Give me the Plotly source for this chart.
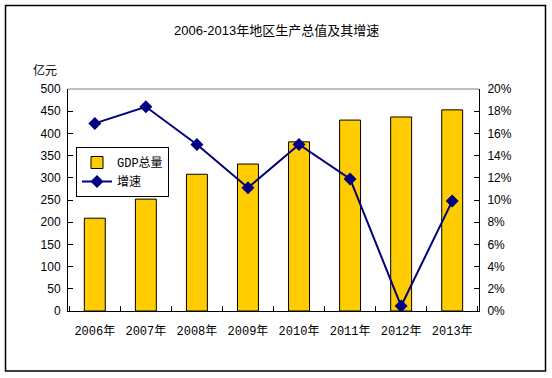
import plotly.graph_objects as go

years = ["2006年", "2007年", "2008年", "2009年", "2010年", "2011年", "2012年", "2013年"]
gdp = [209, 252, 308, 331, 381, 430, 437, 453]
growth = [0.169, 0.184, 0.150, 0.111, 0.150, 0.119, 0.0045, 0.099]
left_ticks = [0, 50, 100, 150, 200, 250, 300, 350, 400, 450, 500]
right_ticks = [0, 0.02, 0.04, 0.06, 0.08, 0.10, 0.12, 0.14, 0.16, 0.18, 0.20]

W, H = 552, 378
L, R, T, B = 68, 479, 89, 311

fig = go.Figure()
fig.add_trace(go.Bar(
    x=years, y=gdp, name="GDP总量", width=0.41,
    marker=dict(color="#FFCC00", line=dict(color="black", width=1)),
))
fig.add_trace(go.Scatter(
    x=years, y=growth, name="增速", yaxis="y2", mode="lines+markers",
    line=dict(color="#000080", width=2),
    marker=dict(symbol="diamond", size=10, color="#000080"),
))

cjk = "Liberation Sans, Noto Sans CJK SC"
pw, ph = R - L, B - T

def px_x(p):
    return (p - L) / pw

def px_y(p):
    return (B - p) / ph

fig.update_layout(
    width=W, height=H,
    margin=dict(l=L, r=W - R, t=T, b=H - B),
    paper_bgcolor="white", plot_bgcolor="white",
    font=dict(family=cjk, size=12, color="black"),
    showlegend=True,
    legend=dict(
        x=px_x(76), y=px_y(147), xanchor="left", yanchor="top",
        bordercolor="black", borderwidth=1, bgcolor="white",
        font=dict(size=12, family="Liberation Mono, Noto Sans CJK SC"),
        tracegroupgap=2,
    ),
    xaxis=dict(
        type="category", showline=True, linecolor="black", linewidth=1,
        ticks="inside", tickson="boundaries", ticklen=5, tickcolor="black",
        showgrid=False, tickfont=dict(size=12, family="Liberation Mono, Noto Sans CJK SC"),
        ticklabelstandoff=9,
    ),
    yaxis=dict(
        range=[0, 500], tickvals=left_ticks, showline=True, linecolor="black",
        ticks="inside", ticklen=5, tickcolor="black", showgrid=False, zeroline=False,
        tickfont=dict(size=12), ticklabelstandoff=4,
    ),
    yaxis2=dict(
        range=[0, 0.2], tickvals=right_ticks, tickformat=".0%", overlaying="y", side="right",
        showline=True, linecolor="black", ticks="inside", ticklen=5, tickcolor="black",
        showgrid=False, zeroline=False, tickfont=dict(size=12), ticklabelstandoff=5,
    ),
    annotations=[
        dict(text="2006-2013年地区生产总值及其增速", xref="paper", yref="paper",
             x=px_x(276), y=px_y(30), xanchor="center", yanchor="middle",
             showarrow=False, font=dict(size=13, family=cjk)),
        dict(text="亿元", xref="paper", yref="paper",
             x=px_x(45), y=px_y(71), xanchor="center", yanchor="middle",
             showarrow=False, font=dict(size=12, family=cjk)),
    ],
    shapes=[
        dict(type="rect", xref="paper", yref="paper",
             x0=px_x(5.5), x1=px_x(545.5), y0=px_y(5.5), y1=px_y(371),
             line=dict(color="black", width=1.5), layer="below"),
        dict(type="line", xref="paper", yref="paper", x0=0, x1=1, y0=1, y1=1,
             line=dict(color="#808080", width=1)),
    ],
)

fig.write_html("out.html", config={"displayModeBar": False},
               post_script="document.body.style.margin='0';document.body.style.overflow='hidden';")
